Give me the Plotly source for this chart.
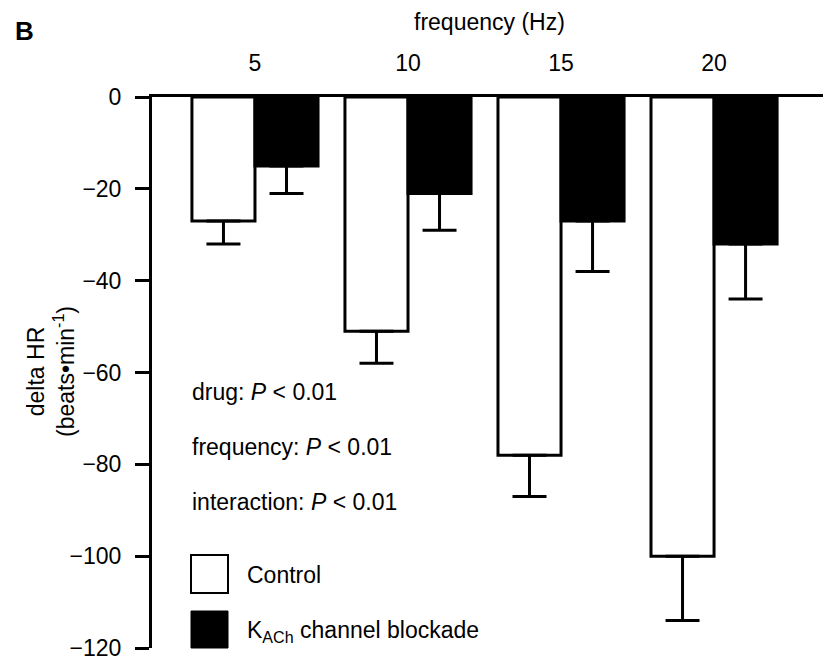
import plotly.graph_objects as go

frequencies = ["5", "10", "15", "20"]
control_mean = [-27, -51, -78, -100]
control_err = [5, 7, 9, 14]
blockade_mean = [-15, -21, -27, -32]
blockade_err = [6, 8, 11, 12]
y_ticks = [0, -20, -40, -60, -80, -100, -120]
stats_lines = ["drug: <i>P</i> < 0.01", "frequency: <i>P</i> < 0.01", "interaction: <i>P</i> < 0.01"]

FONT = "Liberation Sans, Arial, sans-serif"
FS = 23
W, H = 833, 659
L, R, T, B = 152, 10, 97, 11
PW, PH = W - L - R, H - T - B

def px(x):
    return (x - L) / PW

def py(y):
    return (H - B - y) / PH

fig = go.Figure()
fig.add_trace(go.Bar(
    x=frequencies, y=control_mean, name="Control",
    marker=dict(color="white", line=dict(color="black", width=3)),
    error_y=dict(type="data", symmetric=False, array=[0] * 4, arrayminus=control_err,
                 color="black", thickness=3, width=17),
    showlegend=False,
))
fig.add_trace(go.Bar(
    x=frequencies, y=blockade_mean, name="KACh channel blockade",
    marker=dict(color="black", line=dict(color="black", width=3)),
    error_y=dict(type="data", symmetric=False, array=[0] * 4, arrayminus=blockade_err,
                 color="black", thickness=3, width=17),
    showlegend=False,
))

fig.update_layout(
    width=W, height=H,
    margin=dict(l=L, r=R, t=T, b=B, autoexpand=False),
    paper_bgcolor="white", plot_bgcolor="white",
    barmode="group", bargap=0.176, bargroupgap=0,
    font=dict(family=FONT, size=FS, color="black"),
    xaxis=dict(
        side="top", showline=True, linecolor="black", linewidth=3,
        ticks="outside", ticklen=14, tickcolor="rgba(0,0,0,0)",
        showgrid=False, zeroline=False, automargin=False,
        range=[-0.673, 3.712], tickfont=dict(size=FS),
    ),
    yaxis=dict(
        range=[-120, 0], tickvals=y_ticks, showline=True, linecolor="black", linewidth=3,
        ticks="outside", ticklen=14, tickwidth=3, tickcolor="black",
        showgrid=False, zeroline=False, tickfont=dict(size=FS), automargin=False,
        ticklabelstandoff=9, ticklabeloverflow="allow",
    ),
)

ann = []
ann.append(dict(text="<b>B</b>", x=px(13), y=py(31), xref="paper", yref="paper",
                xanchor="left", yanchor="middle", showarrow=False, font=dict(size=26)))
ann.append(dict(text="frequency (Hz)", x=px(489), y=py(22), xref="paper", yref="paper",
                xanchor="center", yanchor="middle", showarrow=False, font=dict(size=FS)))
ann.append(dict(text="delta HR<br>(beats•min<sup>-1</sup>)", x=px(51), y=py(372),
                xref="paper", yref="paper", xanchor="center", yanchor="middle",
                textangle=-90, showarrow=False, font=dict(size=23)))
for txt, yy in zip(stats_lines, [392, 447, 502]):
    ann.append(dict(text=txt, x=px(190), y=py(yy), xref="paper", yref="paper",
                    xanchor="left", yanchor="middle", showarrow=False, font=dict(size=FS)))
ann.append(dict(text="Control", x=px(245), y=py(575), xref="paper", yref="paper",
                xanchor="left", yanchor="middle", showarrow=False, font=dict(size=FS)))
ann.append(dict(text="K<sub>ACh</sub> channel blockade", x=px(245), y=py(631), xref="paper",
                yref="paper", xanchor="left", yanchor="middle", showarrow=False, font=dict(size=FS)))
fig.update_layout(annotations=ann)

fig.add_shape(type="rect", xref="paper", yref="paper", x0=px(191), x1=px(228), y0=py(555), y1=py(593),
              line=dict(color="black", width=2), fillcolor="white")
fig.add_shape(type="rect", xref="paper", yref="paper", x0=px(191), x1=px(228), y0=py(611), y1=py(648),
              line=dict(color="black", width=1), fillcolor="black")

fig.write_html("out.html")
